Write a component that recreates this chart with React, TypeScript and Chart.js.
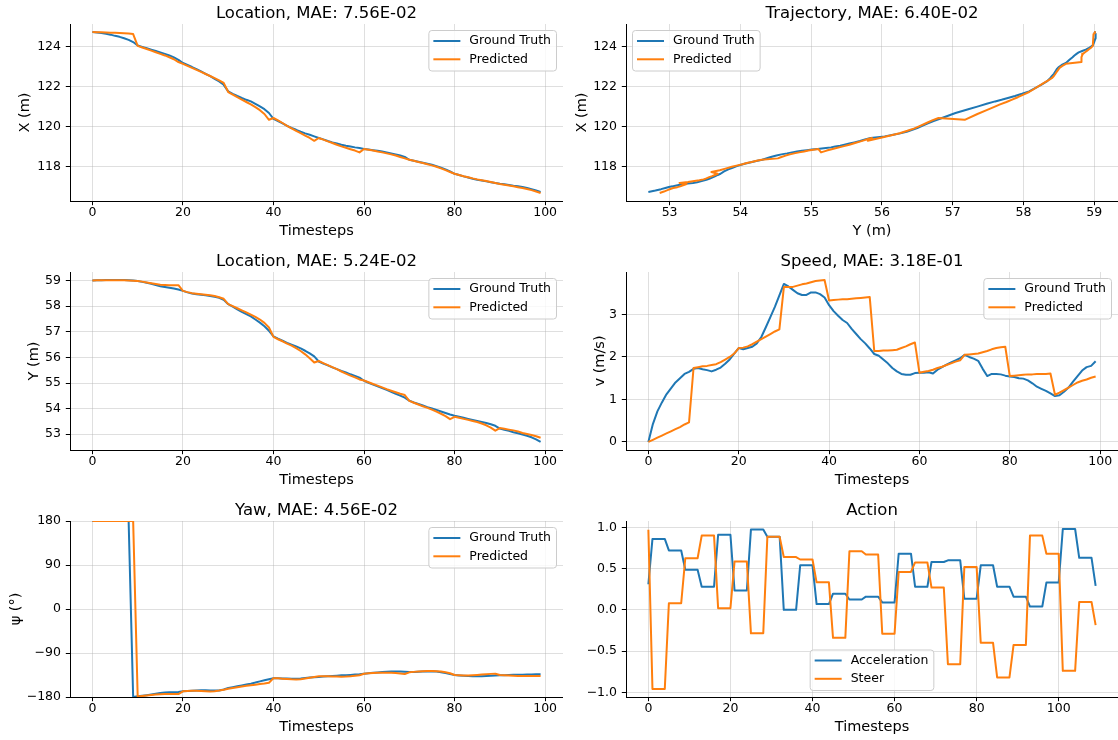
import React, { useEffect, useRef } from 'react';
import { Chart, registerables } from 'chart.js';
Chart.register(...registerables);

const FONT = "'DejaVu Sans', sans-serif";
const BLUE = '#1f77b4';
const ORANGE = '#ff7f0e';
const GRID = 'rgba(176,176,176,0.5)';

// ---------- data ----------
const LOC_X_GT = [
  124.72, 124.70, 124.67, 124.63, 124.59, 124.53, 124.48, 124.41, 124.33, 124.22,
  124.05, 123.98, 123.91, 123.84, 123.77, 123.70, 123.63, 123.55, 123.45, 123.33,
  123.17, 123.07, 122.97, 122.86, 122.75, 122.63, 122.51, 122.38, 122.25, 122.08,
  121.75, 121.63, 121.52, 121.42, 121.33, 121.25, 121.13, 121.00, 120.86, 120.67,
  120.38, 120.27, 120.15, 120.03, 119.92, 119.83, 119.73, 119.65, 119.58, 119.50,
  119.42, 119.35, 119.27, 119.20, 119.14, 119.08, 119.03, 118.99, 118.95, 118.92,
  118.87, 118.84, 118.81, 118.78, 118.74, 118.70, 118.65, 118.60, 118.54, 118.47,
  118.33, 118.28, 118.23, 118.18, 118.13, 118.08, 118.01, 117.93, 117.85, 117.75,
  117.63, 117.57, 117.50, 117.44, 117.38, 117.33, 117.29, 117.25, 117.21, 117.17,
  117.13, 117.10, 117.07, 117.03, 117.00, 116.97, 116.92, 116.86, 116.79, 116.72,
];
const LOC_X_PRED = [
  124.72, 124.71, 124.71, 124.70, 124.69, 124.68, 124.67, 124.66, 124.65, 124.62,
  124.03, 123.95, 123.87, 123.79, 123.71, 123.63, 123.55, 123.46, 123.36, 123.22,
  123.13, 123.03, 122.93, 122.83, 122.73, 122.62, 122.52, 122.41, 122.30, 122.18,
  121.72, 121.59, 121.46, 121.34, 121.22, 121.10, 120.96, 120.81, 120.62, 120.33,
  120.42, 120.30, 120.17, 120.03, 119.90, 119.78, 119.66, 119.54, 119.42, 119.28,
  119.42, 119.34, 119.25, 119.17, 119.08, 119.00, 118.93, 118.86, 118.79, 118.70,
  118.87, 118.83, 118.79, 118.74, 118.70, 118.65, 118.60, 118.54, 118.47, 118.40,
  118.33, 118.28, 118.22, 118.17, 118.11, 118.05, 117.98, 117.90, 117.81, 117.72,
  117.63, 117.57, 117.51, 117.46, 117.40, 117.35, 117.31, 117.27, 117.22, 117.17,
  117.12, 117.08, 117.04, 117.00, 116.96, 116.92, 116.87, 116.81, 116.74, 116.67,
];
const LOC_Y_GT = [
  59.00, 59.01, 59.01, 59.02, 59.02, 59.02, 59.02, 59.02, 59.01, 59.00,
  58.98, 58.95, 58.92, 58.88, 58.83, 58.78, 58.75, 58.72, 58.69, 58.65,
  58.60, 58.54, 58.50, 58.47, 58.45, 58.43, 58.40, 58.37, 58.33, 58.25,
  58.08, 57.98, 57.88, 57.78, 57.69, 57.60, 57.48, 57.36, 57.22, 57.04,
  56.82, 56.73, 56.65, 56.57, 56.50, 56.43, 56.35, 56.26, 56.16, 56.04,
  55.84, 55.76, 55.69, 55.61, 55.54, 55.47, 55.41, 55.34, 55.28, 55.21,
  55.09, 55.01, 54.94, 54.87, 54.80, 54.73, 54.66, 54.58, 54.51, 54.43,
  54.31, 54.24, 54.18, 54.12, 54.06, 54.01, 53.95, 53.89, 53.83, 53.77,
  53.72, 53.68, 53.64, 53.60, 53.56, 53.52, 53.48, 53.44, 53.39, 53.33,
  53.22, 53.17, 53.13, 53.08, 53.04, 52.99, 52.94, 52.88, 52.80, 52.70,
];
const LOC_Y_PRED = [
  59.00, 59.01, 59.01, 59.01, 59.01, 59.01, 59.01, 59.01, 59.00, 58.99,
  58.98, 58.96, 58.93, 58.90, 58.87, 58.84, 58.83, 58.82, 58.82, 58.82,
  58.60, 58.55, 58.51, 58.49, 58.47, 58.45, 58.43, 58.40, 58.35, 58.29,
  58.08, 58.00, 57.92, 57.84, 57.76, 57.67, 57.58, 57.48, 57.35, 57.17,
  56.80, 56.71, 56.63, 56.54, 56.46, 56.36, 56.25, 56.12, 55.97, 55.80,
  55.86, 55.78, 55.70, 55.62, 55.54, 55.45, 55.37, 55.29, 55.22, 55.14,
  55.10, 55.03, 54.96, 54.90, 54.83, 54.76, 54.70, 54.64, 54.58, 54.53,
  54.30, 54.23, 54.16, 54.09, 54.03, 53.96, 53.88, 53.80, 53.71, 53.59,
  53.68, 53.64, 53.60, 53.56, 53.52, 53.48, 53.42, 53.35, 53.26, 53.14,
  53.24, 53.21, 53.18, 53.15, 53.11, 53.05, 53.01, 52.97, 52.92, 52.86,
];
const SPEED_GT = [
  0.00, 0.42, 0.72, 0.93, 1.12, 1.26, 1.40, 1.50, 1.60, 1.65,
  1.72, 1.74, 1.71, 1.69, 1.66, 1.70, 1.75, 1.84, 1.94, 2.08,
  2.21, 2.18, 2.21, 2.24, 2.32, 2.47, 2.70, 2.94, 3.18, 3.45,
  3.72, 3.66, 3.58, 3.50, 3.46, 3.46, 3.52, 3.52, 3.48, 3.40,
  3.22, 3.08, 2.97, 2.87, 2.80, 2.66, 2.54, 2.42, 2.32, 2.20,
  2.07, 2.03, 1.94, 1.85, 1.74, 1.66, 1.60, 1.58, 1.58, 1.62,
  1.63, 1.63, 1.64, 1.61, 1.70, 1.76, 1.82, 1.87, 1.92, 1.97,
  2.05, 2.00, 1.96, 1.91, 1.72, 1.55, 1.60, 1.60, 1.59, 1.56,
  1.54, 1.53, 1.50, 1.49, 1.45, 1.38, 1.30, 1.25, 1.20, 1.14,
  1.08, 1.10, 1.18, 1.28, 1.42, 1.55, 1.68, 1.76, 1.79, 1.90,
];
const SPEED_PRED = [
  0.00, 0.05, 0.10, 0.15, 0.20, 0.25, 0.30, 0.35, 0.41, 0.46,
  1.74, 1.76, 1.78, 1.79, 1.81, 1.83, 1.88, 1.94, 2.00, 2.08,
  2.21, 2.22, 2.25, 2.30, 2.36, 2.42, 2.48, 2.54, 2.60, 2.65,
  3.65, 3.65, 3.65, 3.68, 3.71, 3.73, 3.76, 3.79, 3.80, 3.81,
  3.33, 3.34, 3.35, 3.36, 3.36, 3.37, 3.38, 3.39, 3.40, 3.41,
  2.14, 2.14, 2.15, 2.15, 2.16, 2.17, 2.21, 2.25, 2.30, 2.34,
  1.63, 1.65, 1.67, 1.70, 1.74, 1.77, 1.81, 1.85, 1.89, 1.92,
  2.05, 2.06, 2.07, 2.08, 2.11, 2.14, 2.18, 2.21, 2.23, 2.24,
  1.55, 1.56, 1.57, 1.58, 1.59, 1.59, 1.60, 1.60, 1.60, 1.61,
  1.11, 1.16, 1.22, 1.28, 1.34, 1.40, 1.44, 1.47, 1.51, 1.54,
];
const YAW_GT = [
  180, 180, 180, 180, 180, 180, 180, 180, 180, -179.8,
  -178.6, -177.5, -176.2, -174.8, -173.3, -171.8, -171.0, -170.5, -170.2, -169.8,
  -168.4, -167.6, -167.0, -166.6, -166.4, -166.4, -166.6, -166.8, -166.5, -164.5,
  -161.6, -159.8, -158.0, -156.2, -154.4, -152.7, -150.5, -148.0, -145.8, -143.5,
  -141.8, -141.8, -142.0, -142.3, -142.6, -142.5, -142.0, -141.2, -140.2, -139.5,
  -139.1, -138.3, -137.5, -136.8, -136.3, -135.7, -135.3, -134.8, -134.2, -133.5,
  -132.3, -131.4, -130.5, -129.8, -129.0, -128.2, -127.8, -127.8, -128.0, -128.5,
  -128.9, -128.8, -128.5, -128.0, -127.6, -127.5, -128.0, -129.2, -131.0, -133.2,
  -135.0, -135.8, -136.5, -137.0, -137.5, -137.7, -137.5, -137.0, -136.5, -136.0,
  -135.7, -135.3, -135.0, -134.7, -134.5, -134.3, -134.0, -133.8, -133.7, -133.6,
];
const YAW_PRED = [
  180, 180, 180, 180, 180, 180, 180, 180, 180, 180,
  -179.0, -178.0, -177.0, -176.0, -175.0, -174.2, -174.0, -174.0, -174.0, -174.0,
  -168.4, -167.5, -167.0, -167.0, -167.5, -168.0, -168.5, -168.0, -166.8, -165.2,
  -163.0, -161.5, -160.0, -158.5, -157.2, -156.0, -154.8, -153.5, -152.5, -150.8,
  -141.4, -141.8, -142.5, -143.2, -143.9, -144.2, -143.5, -142.0, -140.5, -139.1,
  -137.7, -137.6, -137.7, -138.0, -138.3, -138.4, -138.2, -137.5, -136.5, -135.5,
  -132.3, -131.5, -131.0, -130.6, -130.3, -130.2, -130.4, -131.0, -132.0, -133.0,
  -129.6, -128.6, -127.8, -127.2, -126.9, -126.8, -127.2, -128.0, -129.5, -131.5,
  -135.0, -135.5, -135.9, -136.0, -135.6, -135.0, -134.2, -133.4, -132.7, -132.3,
  -135.0, -135.5, -136.0, -136.4, -136.8, -137.0, -137.1, -137.1, -137.0, -137.0,
];
const ACCEL = [
  0.31,
  0.86, 0.86, 0.86, 0.86,
  0.72, 0.72, 0.72, 0.72,
  0.485, 0.485, 0.485, 0.485,
  0.28, 0.28, 0.28, 0.28,
  0.91, 0.91, 0.91, 0.91,
  0.235, 0.235, 0.235, 0.235,
  0.975, 0.975, 0.975, 0.975,
  0.885, 0.885, 0.885, 0.885,
  0.0, 0.0, 0.0, 0.0,
  0.54, 0.54, 0.54, 0.54,
  0.07, 0.07, 0.07, 0.07,
  0.195, 0.195, 0.195, 0.195,
  0.125, 0.125, 0.125, 0.125,
  0.16, 0.16, 0.16, 0.16,
  0.09, 0.09, 0.09, 0.09,
  0.68, 0.68, 0.68, 0.68,
  0.28, 0.28, 0.28, 0.28,
  0.58, 0.58, 0.58, 0.58,
  0.60, 0.60, 0.60, 0.60,
  0.135, 0.135, 0.135, 0.135,
  0.54, 0.54, 0.54, 0.54,
  0.28, 0.28, 0.28, 0.28,
  0.16, 0.16, 0.16, 0.16,
  0.04, 0.04, 0.04, 0.04,
  0.33, 0.33, 0.33, 0.33,
  0.98, 0.98, 0.98, 0.98,
  0.63, 0.63, 0.63, 0.63,
  0.29,
];
const STEER = [
  0.97,
  -0.96, -0.96, -0.96, -0.96,
  0.08, 0.08, 0.08, 0.08,
  0.625, 0.625, 0.625, 0.625,
  0.90, 0.90, 0.90, 0.90,
  0.02, 0.02, 0.02, 0.02,
  0.585, 0.585, 0.585, 0.585,
  -0.285, -0.285, -0.285, -0.285,
  0.885, 0.885, 0.885, 0.885,
  0.64, 0.64, 0.64, 0.64,
  0.61, 0.61, 0.61, 0.61,
  0.333, 0.333, 0.333, 0.333,
  -0.34, -0.34, -0.34, -0.34,
  0.71, 0.71, 0.71, 0.71,
  0.67, 0.67, 0.67, 0.67,
  -0.29, -0.29, -0.29, -0.29,
  0.46, 0.46, 0.46, 0.46,
  0.575, 0.575, 0.575, 0.575,
  0.27, 0.27, 0.27, 0.27,
  -0.66, -0.66, -0.66, -0.66,
  0.52, 0.52, 0.52, 0.52,
  -0.40, -0.40, -0.40, -0.40,
  -0.82, -0.82, -0.82, -0.82,
  -0.425, -0.425, -0.425, -0.425,
  0.90, 0.90, 0.90, 0.90,
  0.68, 0.68, 0.68, 0.68,
  -0.74, -0.74, -0.74, -0.74,
  0.095, 0.095, 0.095, 0.095,
  -0.185,
];

// ---------- ticks ----------
const T_TICKS = [0, 20, 40, 60, 80, 100];
const X_TICKS = [118, 120, 122, 124];
const Y_TICKS = [53, 54, 55, 56, 57, 58, 59];
const SPEED_TICKS = [0, 1, 2, 3];
const YAW_TICKS = [-180, -90, 0, 90, 180];
const ACTION_TICKS = [-1.0, -0.5, 0.0, 0.5, 1.0];

const fmt = (v: number, d = 0) => {
  const s = Math.abs(v).toFixed(d);
  return v < 0 && Number(s) !== 0 ? '\u2212' + s : s;
};
const lim = (arrs: number[][]) => {
  let mn = Infinity, mx = -Infinity;
  arrs.forEach(a => a.forEach(v => { if (v < mn) mn = v; if (v > mx) mx = v; }));
  const m = (mx - mn) * 0.05;
  return [mn - m, mx + m];
};
const series = (ys: number[]) => ys.map((y, i) => ({ x: i, y }));
const pairs = (xs: number[], ys: number[]) => xs.map((x, i) => ({ x, y: ys[i] }));

const SMALL = 12.5;

// ---------- matplotlib-style legend inside the axes ----------
const mplLegend = {
  id: 'mplLegend',
  afterDatasetsDraw(chart: any, _args: any, opts: any) {
    if (!opts || !opts.loc) return;
    const ctx = chart.ctx;
    const a = chart.chartArea;
    ctx.save();
    ctx.font = `${SMALL}px ${FONT}`;
    const items = chart.data.datasets.map((d: any) => ({ label: d.label, color: d.borderColor }));
    const tw = Math.max(...items.map((it: any) => ctx.measureText(it.label).width));
    const w = 4.5 + 27 + 9 + tw + 5.5;
    const rowH = 18.3;
    const h = 40.5;
    const inset = 6.5;
    let x = a.right - inset - w;
    let y = a.top + inset;
    if (opts.loc === 'upper left') x = a.left + inset;
    if (opts.loc === 'lower center') { x = (a.left + a.right) / 2 - w / 2; y = a.bottom - inset - h; }
    const r = 3;
    ctx.beginPath();
    ctx.moveTo(x + r, y);
    ctx.lineTo(x + w - r, y); ctx.quadraticCurveTo(x + w, y, x + w, y + r);
    ctx.lineTo(x + w, y + h - r); ctx.quadraticCurveTo(x + w, y + h, x + w - r, y + h);
    ctx.lineTo(x + r, y + h); ctx.quadraticCurveTo(x, y + h, x, y + h - r);
    ctx.lineTo(x, y + r); ctx.quadraticCurveTo(x, y, x + r, y);
    ctx.closePath();
    ctx.fillStyle = 'rgba(255,255,255,0.8)';
    ctx.fill();
    ctx.strokeStyle = '#cccccc';
    ctx.lineWidth = 1;
    ctx.stroke();
    items.forEach((it: any, i: number) => {
      const cy = y + 10.5 + i * rowH;
      ctx.beginPath();
      ctx.moveTo(x + 4.5, cy);
      ctx.lineTo(x + 31.5, cy);
      ctx.strokeStyle = it.color;
      ctx.lineWidth = 2;
      ctx.stroke();
      ctx.fillStyle = '#000';
      ctx.textBaseline = 'middle';
      ctx.textAlign = 'left';
      ctx.fillText(it.label, x + 40.5, cy);
    });
    ctx.restore();
  },
};

type Panel = {
  x: number; y: number; w: number; h: number;
  title: string; xLabel: string; yLabel: string; yTitlePad: number;
  xTicks: number[]; yTicks: number[];
  xFmt: (v: number) => string; yFmt: (v: number) => string;
  xLim: number[]; yLim: number[];
  datasets: any[]; loc: string;
};

const T100 = [-4.95, 103.95];
const T110 = [-5.45, 114.45];
const X_LIM = lim([LOC_X_GT, LOC_X_PRED]);
const Y_LIM = lim([LOC_Y_GT, LOC_Y_PRED]);

const line = (label: string, color: string, data: any[], order: number) => ({
  label, data, borderColor: color, backgroundColor: color, borderWidth: 2,
  pointRadius: 0, pointHoverRadius: 0, tension: 0, fill: false, order,
  borderJoinStyle: 'round', borderCapStyle: 'butt',
});

const COL_L = { x: 0, w: 563 };
const COL_R = { x: 556, w: 562 };
const ROW = [{ y: 2, h: 241 }, { y: 250, h: 242 }, { y: 499, h: 240 }];

const PANELS: Panel[] = [
  {
    ...COL_L, ...ROW[0], title: 'Location, MAE: 7.56E-02', xLabel: 'Timesteps', yLabel: 'X (m)', yTitlePad: 17,
    xTicks: T_TICKS, yTicks: X_TICKS, xFmt: v => fmt(v), yFmt: v => fmt(v), xLim: T100, yLim: X_LIM,
    datasets: [line('Ground Truth', BLUE, series(LOC_X_GT), 2), line('Predicted', ORANGE, series(LOC_X_PRED), 1)],
    loc: 'upper right',
  },
  {
    ...COL_R, ...ROW[0], title: 'Trajectory, MAE: 6.40E-02', xLabel: 'Y (m)', yLabel: 'X (m)', yTitlePad: 17.3,
    xTicks: Y_TICKS, yTicks: X_TICKS, xFmt: v => fmt(v), yFmt: v => fmt(v), xLim: Y_LIM, yLim: X_LIM,
    datasets: [line('Ground Truth', BLUE, pairs(LOC_Y_GT, LOC_X_GT), 2), line('Predicted', ORANGE, pairs(LOC_Y_PRED, LOC_X_PRED), 1)],
    loc: 'upper left',
  },
  {
    ...COL_L, ...ROW[1], title: 'Location, MAE: 5.24E-02', xLabel: 'Timesteps', yLabel: 'Y (m)', yTitlePad: 25.6,
    xTicks: T_TICKS, yTicks: Y_TICKS, xFmt: v => fmt(v), yFmt: v => fmt(v), xLim: T100, yLim: Y_LIM,
    datasets: [line('Ground Truth', BLUE, series(LOC_Y_GT), 2), line('Predicted', ORANGE, series(LOC_Y_PRED), 1)],
    loc: 'upper right',
  },
  {
    ...COL_R, ...ROW[1], title: 'Speed, MAE: 3.18E-01', xLabel: 'Timesteps', yLabel: 'v (m/s)', yTitlePad: 36,
    xTicks: T_TICKS, yTicks: SPEED_TICKS, xFmt: v => fmt(v), yFmt: v => fmt(v), xLim: T100, yLim: lim([SPEED_GT, SPEED_PRED]),
    datasets: [line('Ground Truth', BLUE, series(SPEED_GT), 2), line('Predicted', ORANGE, series(SPEED_PRED), 1)],
    loc: 'upper right',
  },
  {
    ...COL_L, ...ROW[2], title: 'Yaw, MAE: 4.56E-02', xLabel: 'Timesteps', yLabel: 'ψ (°)', yTitlePad: 7.3,
    xTicks: T_TICKS, yTicks: YAW_TICKS, xFmt: v => fmt(v), yFmt: v => fmt(v), xLim: T100, yLim: [-180, 180],
    datasets: [line('Ground Truth', BLUE, series(YAW_GT), 2), line('Predicted', ORANGE, series(YAW_PRED), 1)],
    loc: 'upper right',
  },
  {
    ...COL_R, ...ROW[2], title: 'Action', xLabel: 'Timesteps', yLabel: '', yTitlePad: 0,
    xTicks: T_TICKS, yTicks: ACTION_TICKS, xFmt: v => fmt(v), yFmt: v => fmt(v, 1), xLim: T110, yLim: lim([ACCEL, STEER]),
    datasets: [line('Acceleration', BLUE, series(ACCEL), 2), line('Steer', ORANGE, series(STEER), 1)],
    loc: 'lower center',
  },
];

function buildConfig(p: Panel): any {
  const tickFont = { family: FONT, size: SMALL, lineHeight: 1 };
  const gridCommon = { color: GRID, lineWidth: 0.8, tickColor: '#000', tickLength: 4.2, tickWidth: 1, drawTicks: true };
  const border = { display: true, color: '#000', width: 1 };
  return {
    type: 'line',
    data: { datasets: p.datasets },
    plugins: [mplLegend],
    options: {
      responsive: false,
      maintainAspectRatio: false,
      devicePixelRatio: 1,
      animation: false,
      events: [],
      layout: { padding: 0 },
      plugins: {
        legend: { display: false },
        tooltip: { enabled: false },
        title: {
          display: true, text: p.title, color: '#000', fullSize: false,
          font: { family: FONT, size: 16.5, weight: 'normal', lineHeight: 1.2 },
          padding: { top: 1.5, bottom: 0.7 },
        },
        mplLegend: { loc: p.loc },
      },
      scales: {
        x: {
          type: 'linear', min: p.xLim[0], max: p.xLim[1],
          afterBuildTicks: (s: any) => { s.ticks = p.xTicks.map(v => ({ value: v })); },
          afterFit: (s: any) => { s.height = 42; },
          ticks: { callback: (v: number) => p.xFmt(v), font: tickFont, color: '#000', padding: 1.5, maxRotation: 0, autoSkip: false },
          grid: gridCommon,
          border,
          title: { display: true, text: p.xLabel, color: '#000', font: { family: FONT, size: 14.5, lineHeight: 1.2 }, padding: { top: 0, bottom: 3.3 } },
        },
        y: {
          type: 'linear', min: p.yLim[0], max: p.yLim[1],
          afterBuildTicks: (s: any) => { s.ticks = p.yTicks.map(v => ({ value: v })); },
          afterFit: (s: any) => { s.width = 70; },
          ticks: { callback: (v: number) => p.yFmt(v), font: tickFont, color: '#000', padding: 4.8, autoSkip: false },
          grid: gridCommon,
          border,
          title: { display: p.yLabel !== '', text: p.yLabel, color: '#000', font: { family: FONT, size: 14.5, lineHeight: 1.2 }, padding: { top: p.yTitlePad, bottom: 0 } },
        },
      },
    },
  };
}

export default function App() {
  const refs = useRef<(HTMLCanvasElement | null)[]>([]);
  useEffect(() => {
    const charts = PANELS.map((p, i) => new Chart(refs.current[i] as HTMLCanvasElement, buildConfig(p)));
    return () => charts.forEach(c => c.destroy());
  }, []);
  return (
    <div style={{ position: 'absolute', left: 0, top: 0, width: 1118, height: 740, background: '#fff', overflow: 'hidden' }}>
      {PANELS.map((p, i) => (
        <canvas
          key={i}
          ref={el => { refs.current[i] = el; }}
          width={p.w}
          height={p.h}
          style={{ position: 'absolute', left: p.x, top: p.y, width: p.w, height: p.h }}
        />
      ))}
    </div>
  );
}
